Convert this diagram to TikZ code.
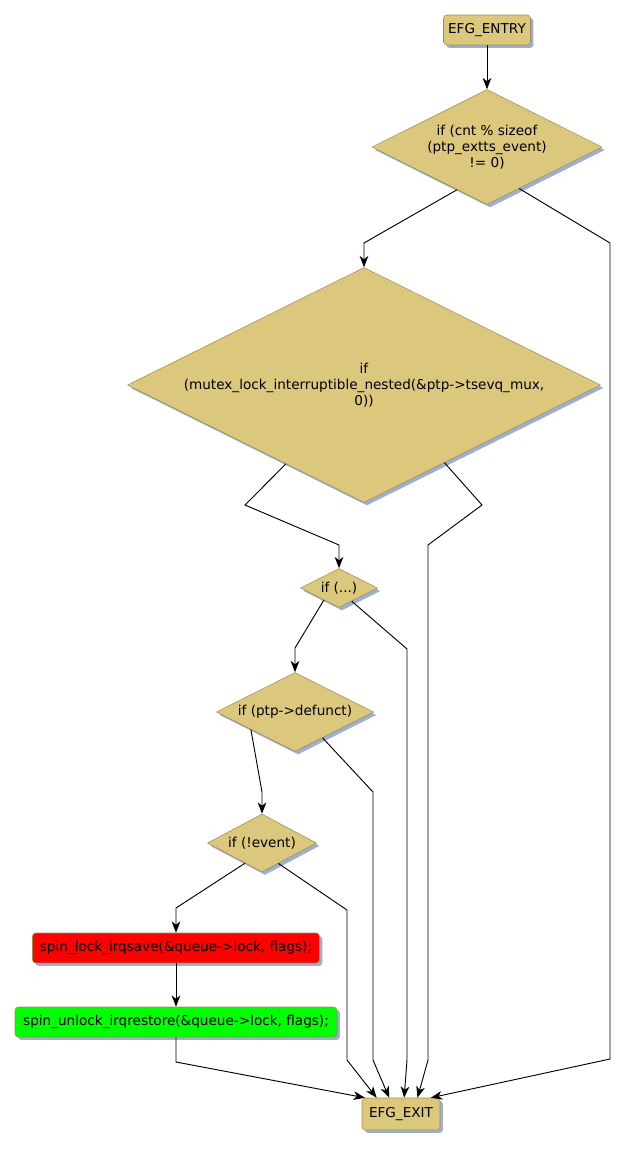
\documentclass[tikz,border=0pt]{standalone}
\usepackage{fontspec}
\setmainfont{DejaVu Sans}
\usetikzlibrary{shapes.geometric,shadows,arrows.meta,calc}
\definecolor{efgfill}{RGB}{219,200,125}
\definecolor{efgline}{RGB}{158,142,85}
\definecolor{efgshadow}{RGB}{157,175,208}
\tikzset{
  efgshade/.style={drop shadow={shadow xshift=2.2pt,shadow yshift=-2.2pt,fill=efgshadow,opacity=1}},
  efgbox/.style={rectangle,rounded corners=2.5pt,draw=efgline,fill=efgfill,efgshade,inner sep=2pt},
  efgif/.style={diamond,draw=efgline,fill=efgfill,efgshade,inner sep=0pt,align=center},
  efgarrow/.style={-{Stealth[length=8.5pt,width=6.5pt,inset=2.5pt]},line width=0.7pt}
}
\begin{document}
\begin{tikzpicture}[x=0.75pt,y=-0.75pt,font=\fontsize{10.2}{12}\selectfont]
\useasboundingbox (0,0) rectangle (627,1150);
% nodes
\node[efgbox,minimum width=65.25pt,minimum height=22.5pt] (entry) at (487,30) {EFG\_ENTRY};
\node[efgif,minimum width=172.5pt,minimum height=86.25pt,shape aspect=2] (cnt) at (487,147) {if (cnt \% sizeof\\(ptp\_extts\_event)\\!= 0)};
\node[efgif,minimum width=354.75pt,minimum height=176.25pt,shape aspect=2] (mutex) at (364,385) {if\\(mutex\_lock\_interruptible\_nested(\&ptp->tsevq\_mux,\\0))};
\node[efgif,minimum width=57.75pt,minimum height=29.25pt,shape aspect=2] (dots) at (339,588) {if (...)};
\node[efgif,minimum width=117.75pt,minimum height=59.25pt,shape aspect=2] (defunct) at (295,712) {if (ptp->defunct)};
\node[efgif,minimum width=81.75pt,minimum height=43.5pt,shape aspect=1.9] (event) at (262,843) {if (!event)};
\node[efgbox,fill=red,minimum width=215.25pt,minimum height=22.5pt] (lock) at (176,948) {spin\_lock\_irqsave(\&queue->lock, flags);};
\node[efgbox,fill=green,minimum width=241.5pt,minimum height=22.5pt] (unlock) at (176,1022) {spin\_unlock\_irqrestore(\&queue->lock, flags);};
\node[efgbox,minimum width=58.5pt,minimum height=24pt] (exit) at (401,1114) {EFG\_EXIT};
% connectors
\draw[efgarrow] (entry.south) -- (cnt.north);
\draw[efgarrow] ($(cnt.south)!.26!(cnt.west)$) -- (mutex.north |- 0,243) -- (mutex.north);
\draw[efgarrow] ($(cnt.south)!.28!(cnt.east)$) -- (610,243) -- (610,1059) -- ($(exit.north west)!.88!(exit.north east)$);
\draw[efgarrow] ($(mutex.south)!.33!(mutex.west)$) -- (245,505) -- (dots.north |- 0,545) -- (dots.north);
\draw[efgarrow] ($(mutex.south)!.34!(mutex.east)$) -- (482,505) -- (428,545) -- (428,1060) -- ($(exit.north west)!.71!(exit.north east)$);
\draw[efgarrow] ($(dots.south)!.39!(dots.west)$) -- (defunct.north |- 0,648) -- (defunct.north);
\draw[efgarrow] ($(dots.south)!.33!(dots.east)$) -- (407,649) -- (407,1060) -- ($(exit.north west)!.54!(exit.north east)$);
\draw[efgarrow] ($(defunct.south)!.56!(defunct.west)$) -- (event.north |- 0,792) -- (event.north);
\draw[efgarrow] ($(defunct.south)!.35!(defunct.east)$) -- (373,792) -- (373,1060) -- ($(exit.north west)!.35!(exit.north east)$);
\draw[efgarrow] ($(event.south)!.31!(event.west)$) -- (lock.north |- 0,908) -- (lock.north);
\draw[efgarrow] ($(event.south)!.3!(event.east)$) -- (347,910) -- (347,1060) -- ($(exit.north west)!.19!(exit.north east)$);
\draw[efgarrow] (lock.south) -- (unlock.north);
\draw[efgarrow] (unlock.south) -- (176,1062) -- ($(exit.north west)!.04!(exit.north east)$);
\end{tikzpicture}
\end{document}
